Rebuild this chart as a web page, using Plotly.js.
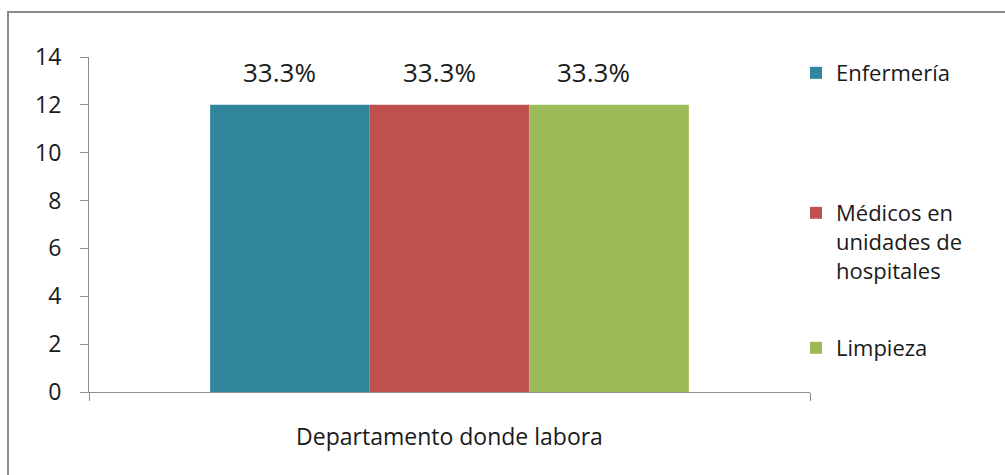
<!DOCTYPE html>
<html>
<head>
<meta charset="utf-8">
<script src="https://cdn.plot.ly/plotly-3.0.1.min.js"></script>
<style>
  html, body { margin: 0; padding: 0; background: #fff; overflow: hidden; }
  #wrap { position: relative; width: 1005px; height: 475px; }
  #chart { position: absolute; left: 0; top: 0; width: 1005px; height: 475px; }
  #frame { position: absolute; left: 7px; top: 11px; width: 1100px; height: 600px;
           border-top: 2px solid #8c8c8c; border-left: 2px solid #8c8c8c; pointer-events: none; }
</style>
</head>
<body>
<div id="wrap">
  <div id="chart"></div>
  <div id="frame"></div>
</div>
<script>
const categories = ["Departamento donde labora"];
const seriesNames = ["Enfermería", "Médicos en<br>unidades de<br>hospitales", "Limpieza"];
const seriesValues = [[12], [12], [12]];
const seriesLabels = ["33.3%", "33.3%", "33.3%"];
const seriesColors = ["#31859C", "#C0504D", "#9BBB59"];
const yTicks = [0, 2, 4, 6, 8, 10, 12, 14];

const FONT = "'Open Sans', 'Noto Sans', sans-serif";
const legendIds = ["legend", "legend2", "legend3"];

const traces = seriesNames.map((name, i) => ({
  type: "bar",
  name: name,
  x: categories,
  y: seriesValues[i],
  marker: { color: seriesColors[i], line: { width: 0 } },
  legend: legendIds[i],
  hoverinfo: "none"
}));

const plotLeft = 89, plotRight = 810;
const barPx = (plotRight - plotLeft) * (1 - 0.336) / 3;
const labelNudge = [-10, -10, -16];

const annotations = seriesLabels.map((t, i) => ({
  x: categories[0], y: seriesValues[i][0], xref: "x", yref: "y",
  text: t, showarrow: false, xanchor: "center", yanchor: "middle",
  xshift: (i - 1) * barPx + labelNudge[i], yshift: 33,
  font: { family: FONT, size: 26, color: "#1a1a1a" }
}));

const legendFont = { family: FONT, size: 22, color: "#1a1a1a" };
const legBase = { x: (796 - plotLeft) / (plotRight - plotLeft), xanchor: "left",
  bgcolor: "rgba(0,0,0,0)", borderwidth: 0, font: legendFont, itemclick: false, itemdoubleclick: false };

const layout = {
  width: 1005, height: 475,
  margin: { l: 89, r: 195, t: 57, b: 83, pad: 0 },
  paper_bgcolor: "#ffffff",
  plot_bgcolor: "#ffffff",
  barmode: "group",
  bargap: 0.336,
  bargroupgap: 0,
  font: { family: FONT, size: 23, color: "#1a1a1a" },
  xaxis: {
    type: "category",
    showline: true, linecolor: "#8c8c8c", linewidth: 1,
    ticks: "outside", tickson: "boundaries", ticklen: 8, tickcolor: "#8c8c8c", tickwidth: 1,
    showgrid: false, zeroline: false,
    tickfont: { family: FONT, size: 23, color: "#1a1a1a" },
    ticklabelstandoff: 24,
    fixedrange: true
  },
  yaxis: {
    range: [0, 14], tickvals: yTicks, ticktext: yTicks.map(String),
    showline: true, linecolor: "#8c8c8c", linewidth: 1,
    ticks: "outside", ticklen: 8, tickcolor: "#8c8c8c", tickwidth: 1,
    showgrid: false, zeroline: false,
    tickfont: { family: FONT, size: 23, color: "#1a1a1a" },
    ticklabelstandoff: 14,
    fixedrange: true
  },
  legend: Object.assign({}, legBase, { y: (392 - 73) / 335, yanchor: "middle" }),
  legend2: Object.assign({}, legBase, { y: (392 - 192) / 335, yanchor: "top", valign: "top" }),
  legend3: Object.assign({}, legBase, { y: (392 - 348) / 335, yanchor: "middle" }),
  annotations: annotations,
  showlegend: true
};

Plotly.newPlot("chart", traces, layout, { displayModeBar: false, staticPlot: true });
</script>
</body>
</html>
